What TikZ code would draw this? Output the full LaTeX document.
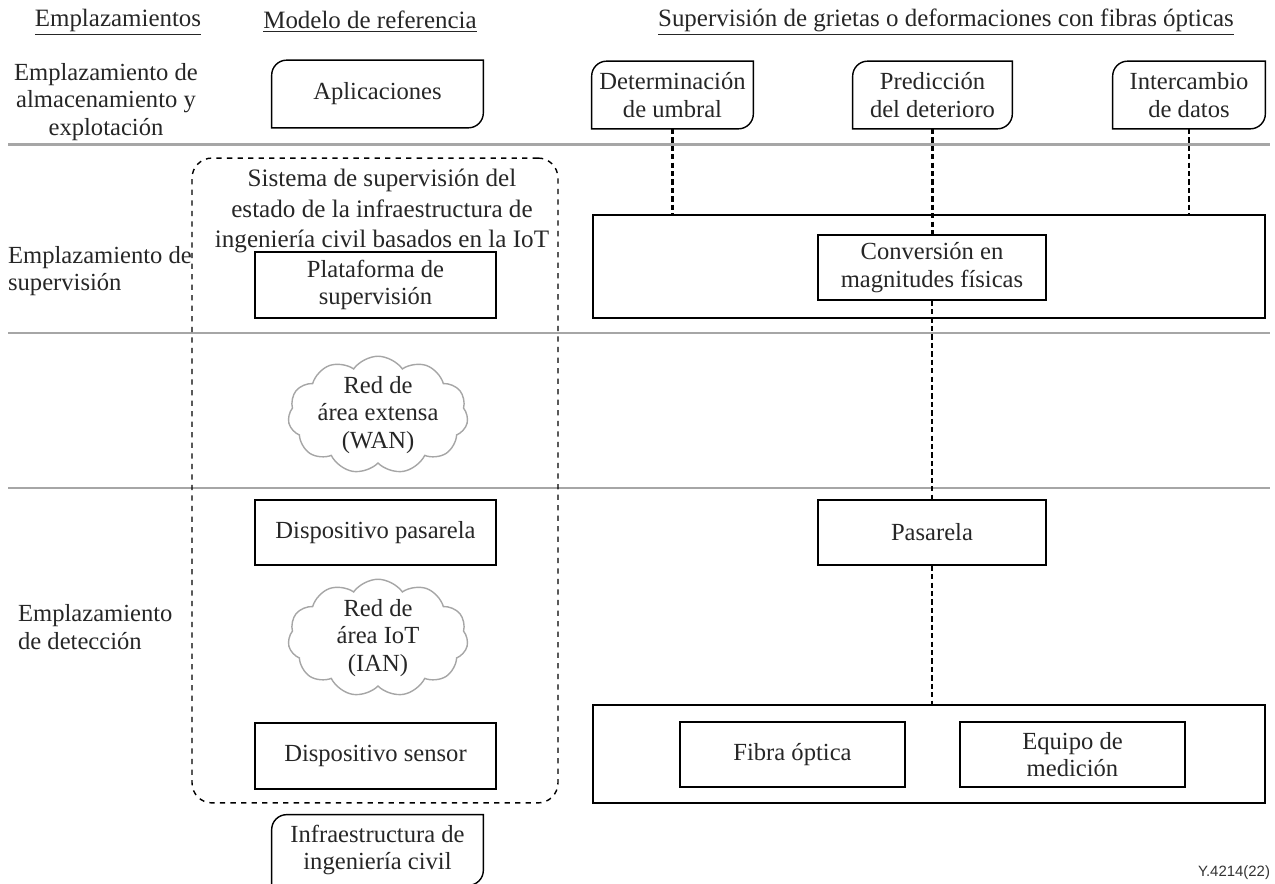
\documentclass[tikz,border=0pt]{standalone}
\usepackage{fontspec}
\setmainfont{Liberation Serif}
\newfontfamily\figsans{Liberation Sans}
\usetikzlibrary{positioning,shapes.symbols}

% marco con dos esquinas redondeadas
\newcommand{\tagframe}[1]{%
  \draw[thick] (#1.south west) -- ([yshift=-0.3cm]#1.north west)
    arc[start angle=180,end angle=90,radius=0.3cm] -- (#1.north east)
    -- ([yshift=0.3cm]#1.south east)
    arc[start angle=0,end angle=-90,radius=0.3cm] -- cycle;}

\begin{document}
\begin{tikzpicture}[
    x=0.02cm, y=-0.02cm,
    % estilos
    every node/.style={font=\fontsize{14}{15.6}\selectfont, text=black!85, align=center, inner sep=1pt},
    boxnode/.style={rectangle, draw=black, thick, minimum width=4.5cm, minimum height=1.3cm},
    widenode/.style={rectangle, draw=black, thick, minimum width=13.44cm},
    tagnode/.style={rectangle, minimum height=1.34cm},
    cloudnode/.style={cloud, cloud puffs=11, cloud puff arc=110, aspect=1.55, draw=black!35, thick, minimum width=3.6cm, minimum height=2.35cm, inner sep=0pt},
    sepline/.style={draw=black!35, line width=1.7pt},
    link/.style={draw=black, line width=1.6pt, dash pattern=on 3pt off 1.8pt},
    headnode/.style={font=\fontsize{14.2}{16}\selectfont},
    ]
    \useasboundingbox (0,0) rectangle (1275,884);

    %Separadores
    \draw[sepline] (8,145) -- (1270,145);
    \draw[sepline] (8,333) -- (1270,333);
    \draw[sepline] (8,488) -- (1270,488);

    %Cabeceras
    \node[headnode] (hsite)  at (118,22) {\underline{Emplazamientos}};
    \node[headnode] (hmodel) at (370,22) {\underline{Modelo de referencia}};
    \node[headnode] (hfibre) at (946,22) {\underline{Supervisión de grietas o deformaciones con fibras ópticas}};

    %Emplazamientos
    \node (sstore) at (106,102) {Emplazamiento de\\almacenamiento y\\explotación};
    \node[anchor=west, align=left] (ssuper) at (6,271) {Emplazamiento de\\supervisión};
    \node[anchor=west, align=left] (sdetect) at (16,627) {Emplazamiento\\de detección};

    %Modelo de referencia
    \node[rectangle, draw=black, thick, dashed, rounded corners=0.4cm,
          minimum width=7.32cm, minimum height=12.9cm] (sys) at (375,480.5) {};
    \node[font=\fontsize{14.3}{17.2}\selectfont] (systxt) at (382,211)
        {Sistema de supervisión del\\estado de la infraestructura de\\ingeniería civil basados en la IoT};
    \node[tagnode, minimum width=4.22cm] (app) at (377.5,94) {Aplicaciones};
    \node[boxnode, minimum width=4.82cm, minimum height=1.32cm] (plat) at (375.5,285) {Plataforma de\\supervisión};
    \node[cloudnode] (wan) at (378,415) {};
    \node (wantxt) at (wan.center) {Red de\\área extensa\\(WAN)};
    \node[boxnode, minimum width=4.82cm] (gwdev) at (375.5,532.5) {Dispositivo pasarela};
    \node[cloudnode] (ian) at (378,638) {};
    \node (iantxt) at (ian.center) {Red de\\área IoT\\(IAN)};
    \node[boxnode, minimum width=4.82cm, minimum height=1.32cm] (sensor) at (375.5,756) {Dispositivo sensor};
    \node[tagnode, minimum width=4.22cm, minimum height=1.4cm] (infra) at (377.5,850) {Infraestructura de\\ingeniería civil};

    %Fibras ópticas
    \node[tagnode, minimum width=3.22cm] (thresh) at (672.5,95) {Determinación\\de umbral};
    \node[tagnode, minimum width=3.18cm] (predict) at (932.5,95) {Predicción\\del deterioro};
    \node[tagnode, minimum width=3.04cm] (xchange) at (1189,95) {Intercambio\\de datos};
    \node[widenode, minimum height=2.06cm] (convbox) at (929,266.5) {};
    \node[boxnode, minimum width=4.56cm] (conv) at (932,267.5) {Conversión en\\magnitudes físicas};
    \node[boxnode, minimum width=4.56cm] (gw) at (932,532.5) {Pasarela};
    \node[widenode, minimum height=1.96cm] (fibbox) at (929,754) {};
    \node[boxnode] (fibre) at (792.5,754.5) {Fibra óptica};
    \node[boxnode] (meter) at (1072.5,754.5) {Equipo de\\medición};

    \node[font=\figsans\fontsize{8.5}{10}\selectfont, text=black!80] (figno) at (1234,873) {Y.4214(22)};

    %Marcos
    \tagframe{app}
    \tagframe{infra}
    \tagframe{thresh}
    \tagframe{predict}
    \tagframe{xchange}

    %Lines
    \draw[link] (thresh.south) -- (thresh.south |- convbox.north);
    \draw[link] (predict.south) -- (predict.south |- conv.north);
    \draw[link] (xchange.south) -- (xchange.south |- convbox.north);
    \draw[link] (conv.south) -- (gw.north);
    \draw[link] (gw.south) -- (gw.south |- fibbox.north);
\end{tikzpicture}
\end{document}
